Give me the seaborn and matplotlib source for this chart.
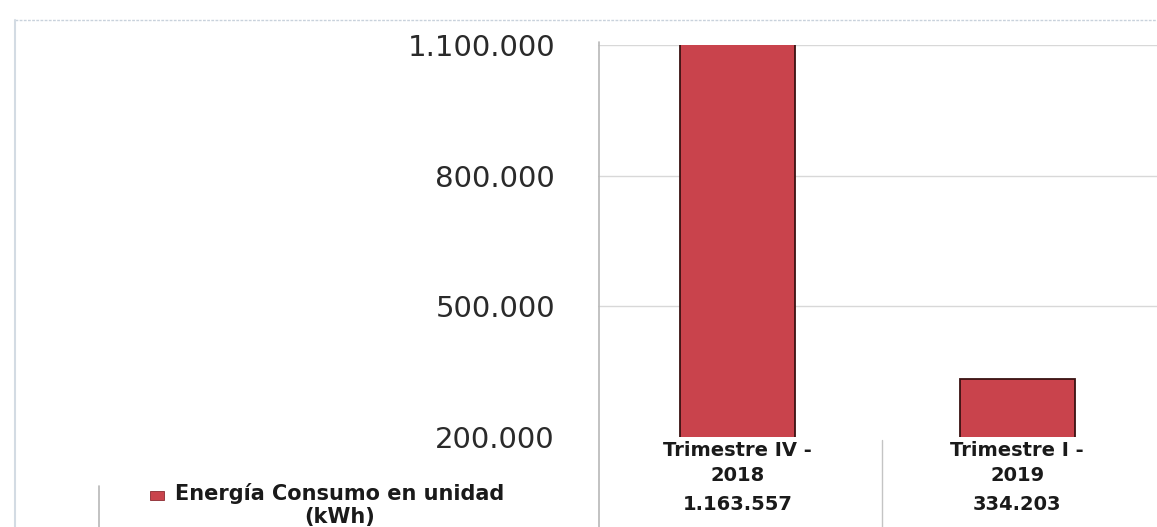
import matplotlib
matplotlib.use("Agg")
import matplotlib.pyplot as plt
import matplotlib.transforms as mtransforms
from matplotlib.patches import Rectangle
from matplotlib.lines import Line2D
import seaborn as sns
import pandas as pd

categories = ["Trimestre IV -\n2018", "Trimestre I -\n2019"]
values = [1163557, 334203]
series_name = "Energía Consumo en unidad\n(kWh)"
yticks = [200000, 500000, 800000, 1100000]

def fmt(v):
    return f"{v:,}".replace(",", ".")

sns.set_theme(style="white")
plt.rcParams["font.family"] = ["DejaVu Sans"]

df = pd.DataFrame({"cat": categories, "val": values})

fig = plt.figure(figsize=(11.57, 5.27), dpi=100)
ax = fig.add_axes([598/1157, 1-437/527, 1-598/1157, (437-45)/527])

bar_color = "#c9434c"
sns.barplot(data=df, x="cat", y="val", ax=ax, color=bar_color, width=0.41,
            saturation=1, edgecolor="#3a1212", linewidth=1.3, zorder=3)

ax.set_ylim(yticks[0], yticks[-1])
ax.set_xlim(-0.5, 1.5)
ax.set_yticks(yticks)
ax.set_yticklabels([fmt(t) for t in yticks], fontsize=21, color="#2a2a2a")
ax.tick_params(axis="y", length=0, pad=31)
ax.set_xticks([])
ax.set_xlabel("")
ax.set_ylabel("")
for y in yticks[1:]:
    ax.axhline(y, color="#d8d8d8", lw=1.0, zorder=1)
for s in ["top", "right", "bottom", "left"]:
    ax.spines[s].set_visible(False)

fig_tr = fig.transFigure
def fy(py):
    return 1 - py / 527
def fx(px):
    return px / 1157

# y-axis / table left line
fig.add_artist(Line2D([fx(599), fx(599)], [fy(42), 0], color="#b8b8b8", lw=1.2, transform=fig_tr))
# table divider between columns
fig.add_artist(Line2D([fx(882), fx(882)], [fy(440), 0], color="#c4c4c4", lw=1.0, transform=fig_tr))
# legend cell left border
fig.add_artist(Line2D([fx(99), fx(99)], [fy(486), 0], color="#b8b8b8", lw=1.2, transform=fig_tr))
# outer faint chart border
fig.add_artist(Line2D([fx(15), 1], [fy(20), fy(20)], color="#c9d2dc", lw=1.0, ls=(0, (2, 1)), transform=fig_tr))
fig.add_artist(Line2D([fx(15), fx(15)], [fy(20), 0], color="#d3dbe3", lw=1.5, transform=fig_tr))

# table header and values (x in data coordinates, y in figure coordinates)
blend = mtransforms.blended_transform_factory(ax.transData, fig_tr)
for i, (c, v) in enumerate(zip(categories, values)):
    ax.text(i, fy(463), c, transform=blend, ha="center", va="center", fontsize=14,
            fontweight="bold", color="#1a1a1a", linespacing=1.35, clip_on=False)
    ax.text(i, fy(504), fmt(v), transform=blend, ha="center", va="center", fontsize=14,
            fontweight="bold", color="#1a1a1a", clip_on=False)

# legend key and series name
fig.add_artist(Rectangle((fx(150), fy(500)), 14/1157, 9/527, transform=fig_tr,
                         facecolor=bar_color, edgecolor="#8a2a30", lw=0.6))
fig.text(fx(340), fy(505), series_name, ha="center", va="center", fontsize=15,
         fontweight="bold", color="#1a1a1a", linespacing=1.2)

fig.savefig("out.png", dpi=100, facecolor="white")
